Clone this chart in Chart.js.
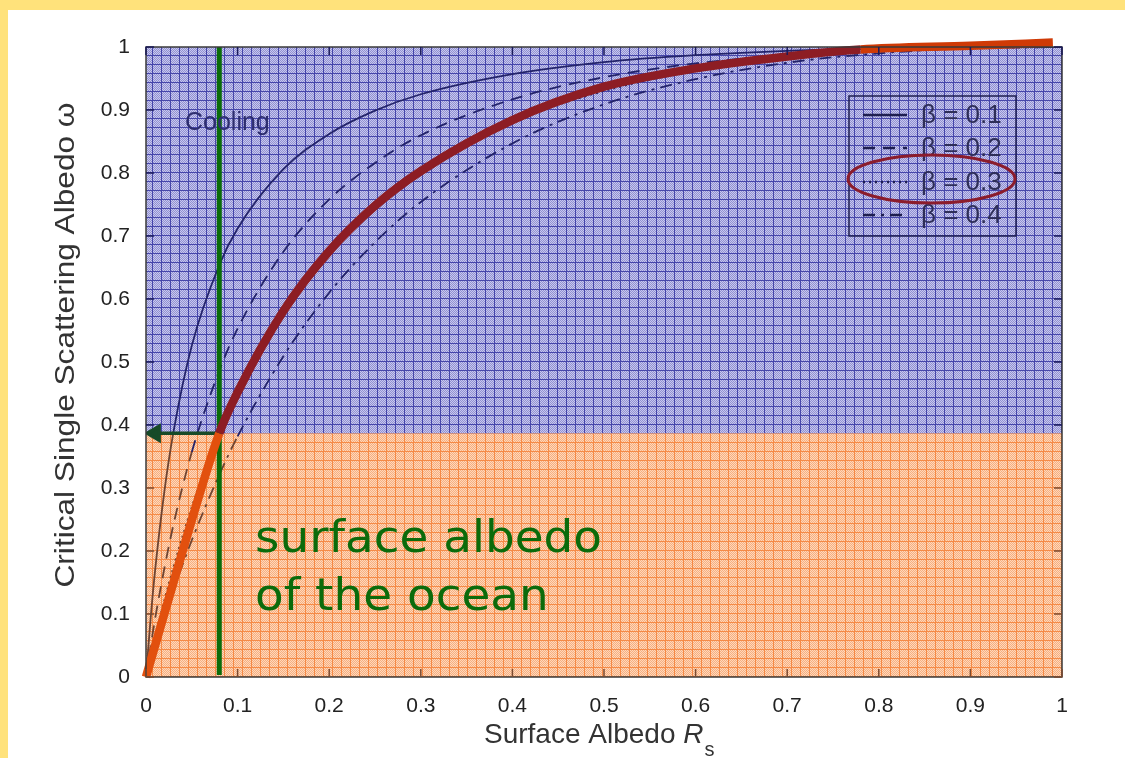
<!DOCTYPE html>
<html>
<head>
<meta charset="utf-8">
<script src="https://cdn.jsdelivr.net/npm/chart.js@4/dist/chart.umd.min.js"></script>
<style>
  html, body { margin: 0; padding: 0; background: #ffe27b; }
  #panel { position: absolute; left: 8px; top: 10px; width: 1117px; height: 748px; background: #fff; }
</style>
</head>
<body>
<div id="panel"><canvas id="chart"></canvas></div>
<script>
// surface albedo R_s (x) and critical single scattering albedo (y) for each beta
const rs     = [0, 0.005, 0.01, 0.02, 0.03, 0.05, 0.08, 0.1, 0.15, 0.2, 0.25, 0.3, 0.4, 0.5, 0.6, 0.7, 0.8, 0.9, 1.0];
const beta01 = [0, 0.092, 0.170, 0.294, 0.389, 0.526, 0.654, 0.712, 0.806, 0.862, 0.899, 0.925, 0.957, 0.976, 0.987, 0.994, 0.997, 0.999, 1.0];
const beta02 = [0, 0.048, 0.093, 0.172, 0.242, 0.357, 0.486, 0.553, 0.675, 0.758, 0.816, 0.860, 0.917, 0.952, 0.974, 0.987, 0.995, 0.999, 1.0];
const beta03 = [0, 0.033, 0.064, 0.122, 0.175, 0.270, 0.387, 0.452, 0.581, 0.676, 0.748, 0.803, 0.881, 0.930, 0.962, 0.981, 0.993, 0.998, 1.0];
const beta04 = [0, 0.025, 0.049, 0.094, 0.138, 0.217, 0.321, 0.382, 0.509, 0.610, 0.690, 0.754, 0.847, 0.909, 0.949, 0.975, 0.990, 0.998, 1.0];
const betaLabels = ['β = 0.1', 'β = 0.2', 'β = 0.3', 'β = 0.4'];

// hand-drawn highlight over the beta = 0.3 curve
const redX = [0, 0.04, 0.08, 0.1, 0.15, 0.2, 0.25, 0.3, 0.4, 0.5, 0.6, 0.7, 0.78, 0.9, 0.99];
const redY = [0, 0.200, 0.387, 0.452, 0.581, 0.676, 0.748, 0.803, 0.884, 0.937, 0.966, 0.985, 0.996, 1.002, 1.007];

// ocean surface albedo and the matching critical value
const oceanRs = 0.08;
const oceanOmega = 0.387;

const xTicks = [0, 0.1, 0.2, 0.3, 0.4, 0.5, 0.6, 0.7, 0.8, 0.9, 1];
const yTicks = [0, 0.1, 0.2, 0.3, 0.4, 0.5, 0.6, 0.7, 0.8, 0.9, 1];

const pts = (xs, ys) => xs.map((v, i) => ({ x: v, y: ys[i] }));

function makePattern(base, light, line) {
  const c = document.createElement('canvas');
  c.width = 9; c.height = 9;
  const g = c.getContext('2d');
  g.fillStyle = base; g.fillRect(0, 0, 9, 9);
  g.fillStyle = light;
  for (let j = 1; j < 9; j++) for (let i = 1; i < 9; i++) if ((i + j) % 2 === 0) g.fillRect(i, j, 1, 1);
  g.fillStyle = line;
  g.fillRect(0, 0, 9, 1);
  g.fillRect(0, 0, 1, 9);
  return g.createPattern(c, 'repeat');
}
const blueFill = makePattern('#9090d2', '#c8c8ee', '#4646aa');
const orangeFill = makePattern('#f8ae7e', '#fdd8bc', '#f58a46');

const NAVY = '#23236a';
const BROWN = '#6e4432';
const tint = ctx => (ctx.p1.parsed.y <= oceanOmega + 0.005 && ctx.p0.parsed.y <= oceanOmega + 0.005) ? BROWN : NAVY;

const dashes = [[], [12, 8], [2, 4], [12, 6, 3, 6]];

function curve(label, ys, dash) {
  return {
    label, data: pts(rs, ys), showLine: true, borderColor: NAVY, borderWidth: 1.8,
    borderDash: dash, pointRadius: 0, cubicInterpolationMode: 'monotone', order: 5,
    segment: { borderColor: tint }
  };
}

const decor = {
  id: 'decor',
  afterDraw(chart) {
    const { ctx, chartArea: a, scales: { x, y } } = chart;
    ctx.save();
    // frame
    ctx.strokeStyle = '#3a3a3a';
    ctx.lineWidth = 1.5;
    ctx.strokeRect(a.left, a.top, a.right - a.left, a.bottom - a.top);
    // inward ticks on all four sides
    ctx.lineWidth = 1.5;
    xTicks.forEach(v => {
      const px = x.getPixelForValue(v);
      ctx.strokeStyle = '#7a4a30';
      ctx.beginPath(); ctx.moveTo(px, a.bottom); ctx.lineTo(px, a.bottom - 8); ctx.stroke();
      ctx.strokeStyle = '#1a1a5a';
      ctx.beginPath(); ctx.moveTo(px, a.top); ctx.lineTo(px, a.top + 8); ctx.stroke();
    });
    yTicks.forEach(v => {
      const py = y.getPixelForValue(v);
      ctx.strokeStyle = v < oceanOmega ? '#7a4a30' : '#1a1a5a';
      ctx.beginPath(); ctx.moveTo(a.left, py); ctx.lineTo(a.left + 8, py); ctx.stroke();
      ctx.beginPath(); ctx.moveTo(a.right, py); ctx.lineTo(a.right - 8, py); ctx.stroke();
    });

    // legend
    const lx = 841, ly = 86, lw = 167, lh = 140;
    ctx.strokeStyle = '#1e1e50';
    ctx.lineWidth = 1.5;
    ctx.strokeRect(lx, ly, lw, lh);
    const rows = [105, 138, 172, 205];
    ctx.font = '26px "Liberation Sans", Arial, sans-serif';
    ctx.textBaseline = 'middle';
    rows.forEach((ry, i) => {
      ctx.strokeStyle = '#1e1e50';
      ctx.lineWidth = 2.5;
      ctx.setLineDash(dashes[i]);
      ctx.beginPath(); ctx.moveTo(855, ry); ctx.lineTo(899, ry); ctx.stroke();
      ctx.setLineDash([]);
      ctx.fillStyle = '#2e2e58';
      ctx.fillText(betaLabels[i], 913, ry + 1);
    });
    // ellipse around beta = 0.3
    ctx.strokeStyle = '#8b1c2c';
    ctx.lineWidth = 3;
    ctx.beginPath(); ctx.ellipse(923.5, 169, 83.5, 24, 0, 0, Math.PI * 2); ctx.stroke();

    // annotations
    ctx.textBaseline = 'alphabetic';
    ctx.fillStyle = '#2d2d6e';
    ctx.font = '25px "Liberation Sans", Arial, sans-serif';
    ctx.fillText('Cooling', 177, 120);

    ctx.fillStyle = '#0b6b0b';
    ctx.font = '44px "DejaVu Sans", Verdana, sans-serif';
    const w1 = ctx.measureText('surface albedo').width;
    const sx = 347 / w1;
    ctx.save();
    ctx.translate(247, 0);
    ctx.scale(sx, 1);
    ctx.fillText('surface albedo', 0, 542);
    ctx.fillText('of the ocean', 0, 600);
    ctx.restore();

    // axis titles
    ctx.fillStyle = '#333';
    ctx.font = '28px "Liberation Sans", Arial, sans-serif';
    let tx = 476;
    ctx.fillText('Surface Albedo ', tx, 733);
    tx += ctx.measureText('Surface Albedo ').width;
    ctx.font = 'italic 28px "Liberation Sans", Arial, sans-serif';
    ctx.fillText('R', tx, 733);
    tx += ctx.measureText('R').width + 1;
    ctx.font = '20px "Liberation Sans", Arial, sans-serif';
    ctx.fillText('s', tx, 746);

    ctx.save();
    ctx.translate(58, 335);
    ctx.rotate(-Math.PI / 2);
    ctx.font = '28px "Liberation Sans", Arial, sans-serif';
    ctx.textAlign = 'center';
    ctx.textBaseline = 'middle';
    const yt = 'Critical Single Scattering Albedo ω';
    const k = 485 / ctx.measureText(yt).width;
    ctx.scale(k, 1);
    ctx.fillText(yt, 0, 0);
    ctx.restore();

    ctx.restore();
  }
};

const tickFont = { family: '"Liberation Sans", Arial, sans-serif', size: 21 };
const fmt = v => (Math.abs(v) < 1e-9 ? '0' : Math.abs(v - 1) < 1e-9 ? '1' : (+v).toFixed(1));

new Chart(document.getElementById('chart'), {
  type: 'scatter',
  data: {
    datasets: [
      { label: 'heating', data: pts([0, 1], [oceanOmega, oceanOmega]), showLine: true, borderWidth: 0,
        pointRadius: 0, fill: 'start', backgroundColor: orangeFill, order: 11 },
      { label: 'cooling', data: pts([0, 1], [oceanOmega, oceanOmega]), showLine: true, borderWidth: 0,
        pointRadius: 0, fill: 'end', backgroundColor: blueFill, order: 10 },
      curve(betaLabels[0], beta01, dashes[0]),
      curve(betaLabels[1], beta02, dashes[1]),
      curve(betaLabels[2], beta03, dashes[2]),
      curve(betaLabels[3], beta04, dashes[3]),
      { label: 'ocean', data: pts([oceanRs, oceanRs], [0.003, 1]), showLine: true, borderColor: '#0a6c0a',
        borderWidth: 5, pointRadius: 0, order: 3 },
      { label: 'arrow', data: pts([oceanRs, 0.01], [oceanOmega, oceanOmega]), showLine: true,
        borderColor: '#174a28', borderWidth: 3.5, pointStyle: 'triangle', rotation: -90,
        pointRadius: [0, 8], pointBackgroundColor: '#174a28', pointBorderColor: '#174a28', order: 2 },
      { label: 'highlight', data: pts(redX, redY), showLine: true, borderWidth: 8.5, pointRadius: 0,
        cubicInterpolationMode: 'monotone', clip: false, order: 1,
        segment: { borderColor: c => c.p1.parsed.x <= oceanRs + 1e-6 ? '#e2500e' : (c.p0.parsed.x >= 0.78 ? '#cf3a06' : '#8d1d24') } }
    ]
  },
  options: {
    responsive: true,
    maintainAspectRatio: false,
    animation: false,
    layout: { padding: { top: 37, right: 63, left: 0, bottom: 0 } },
    plugins: { legend: { display: false }, tooltip: { enabled: false } },
    scales: {
      x: {
        type: 'linear', min: 0, max: 1,
        grid: { display: false }, border: { display: false },
        afterBuildTicks: s => { s.ticks = xTicks.map(v => ({ value: v })); },
        afterFit: s => { s.height = 81; },
        ticks: { color: '#222', font: tickFont, padding: 9, maxRotation: 0, callback: fmt }
      },
      y: {
        type: 'linear', min: 0, max: 1,
        grid: { display: false }, border: { display: false },
        afterBuildTicks: s => { s.ticks = yTicks.map(v => ({ value: v })); },
        afterFit: s => { s.width = 138; },
        ticks: { color: '#222', font: tickFont, padding: 8, callback: fmt }
      }
    }
  },
  plugins: [decor]
});
</script>
</body>
</html>
